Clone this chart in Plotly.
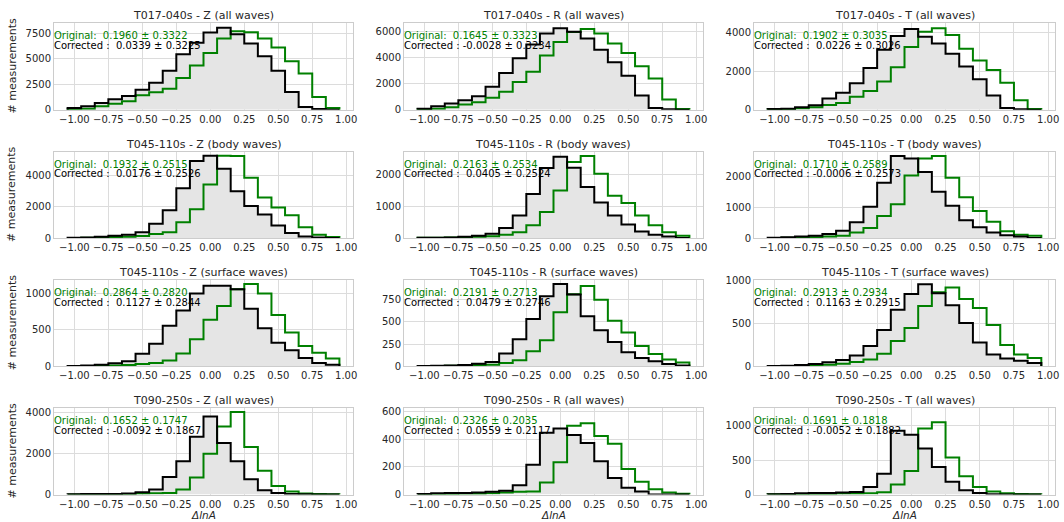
import plotly.graph_objects as go

# ---------------- data ----------------
bin_edges = [-1.05, -0.95, -0.85, -0.75, -0.65, -0.55, -0.45, -0.35, -0.25, -0.15, -0.05,
             0.05, 0.15, 0.25, 0.35, 0.45, 0.55, 0.65, 0.75, 0.85, 0.95]

periods = ["T017-040s", "T045-110s", "T045-110s", "T090-250s"]
wave_types = ["all waves", "body waves", "surface waves", "all waves"]
components = ["Z", "R", "T"]

# corrected (black, filled) histograms, panels in reading order
corr_p1 = [165, 330, 660, 1020, 1350, 1970, 2660, 3820, 5460, 6580, 7600, 8060, 7430, 6510, 5260, 3820, 1740, 260, 70, 0]
corr_p2 = [78, 260, 465, 725, 1035, 1760, 2790, 3930, 4965, 5820, 6205, 5950, 5430, 4580, 3620, 2590, 1090, 130, 25, 0]
corr_p3 = [35, 53, 123, 228, 580, 877, 1370, 2160, 3105, 3810, 4175, 3770, 3420, 2895, 2230, 1580, 737, 88, 18, 0]
corr_p4 = [20, 40, 85, 150, 215, 370, 910, 1770, 3180, 4910, 5250, 4430, 2990, 2050, 1510, 800, 325, 110, 40, 0]
corr_p5 = [10, 10, 20, 40, 75, 140, 320, 710, 1380, 2200, 2550, 2210, 1600, 1120, 710, 425, 210, 105, 50, 0]
corr_p6 = [10, 30, 55, 75, 130, 240, 515, 1020, 1790, 2660, 2580, 2140, 1505, 1045, 580, 350, 185, 90, 55, 0]
corr_p7 = [5, 14, 23, 42, 70, 172, 312, 558, 767, 1000, 1107, 1107, 1060, 790, 525, 325, 220, 116, 46, 23]
corr_p8 = [5, 8, 11, 15, 30, 49, 144, 303, 530, 784, 920, 803, 560, 405, 273, 159, 95, 57, 27, 11]
corr_p9 = [4, 8, 16, 28, 47, 75, 126, 237, 423, 660, 842, 957, 850, 711, 506, 277, 138, 91, 67, 40]
corr_p10 = [17, 33, 33, 33, 50, 116, 248, 860, 1620, 2810, 3800, 2510, 1620, 744, 215, 83, 33, 17, 0, 0]
corr_p11 = [5, 10, 12, 12, 15, 20, 27, 68, 215, 446, 478, 430, 373, 241, 120, 49, 22, 0, 0, 0]
corr_p12 = [5, 10, 20, 24, 24, 29, 39, 112, 302, 927, 868, 668, 400, 185, 63, 24, 5, 0, 0, 0]

# original (green) histograms
orig_p1 = [33, 100, 330, 590, 820, 1410, 1710, 2070, 3120, 4340, 5590, 7000, 7730, 7630, 7000, 6120, 4770, 3550, 1250, 160]
orig_p2 = [25, 78, 180, 390, 570, 905, 1370, 2120, 2900, 4140, 5170, 5920, 6150, 5820, 5040, 4320, 3310, 2380, 775, 50]
orig_p3 = [18, 35, 70, 123, 245, 350, 667, 965, 1456, 2190, 3245, 4035, 4210, 3860, 3155, 2545, 2050, 1400, 490, 35]
orig_p4 = [0, 20, 40, 65, 85, 130, 260, 370, 1015, 1840, 3415, 5250, 5230, 3850, 2595, 1945, 1450, 690, 215, 65]
orig_p5 = [10, 10, 20, 30, 40, 55, 105, 180, 400, 820, 1490, 2390, 2575, 2020, 1330, 1100, 710, 400, 180, 75]
orig_p6 = [0, 10, 20, 30, 55, 75, 185, 330, 715, 1100, 2030, 2580, 2660, 1955, 1320, 880, 530, 220, 110, 75]
orig_p7 = [0, 5, 10, 14, 19, 33, 47, 80, 177, 372, 642, 828, 1060, 1130, 1000, 707, 465, 279, 186, 107]
orig_p8 = [0, 4, 8, 11, 15, 19, 38, 68, 170, 292, 606, 807, 900, 746, 511, 379, 227, 140, 76, 45]
orig_p9 = [0, 4, 8, 12, 20, 32, 51, 79, 146, 296, 447, 703, 862, 917, 783, 680, 482, 249, 138, 99]
orig_p10 = [0, 0, 17, 33, 33, 50, 66, 83, 248, 826, 1983, 3306, 4017, 2314, 1157, 413, 149, 50, 33, 17]
orig_p11 = [0, 5, 5, 7, 7, 10, 15, 20, 22, 88, 234, 498, 515, 424, 368, 185, 93, 39, 15, 7]
orig_p12 = [5, 5, 5, 10, 10, 15, 15, 20, 34, 146, 341, 961, 1049, 537, 268, 112, 44, 20, 10, 5]

corrected = [corr_p1, corr_p2, corr_p3, corr_p4, corr_p5, corr_p6,
             corr_p7, corr_p8, corr_p9, corr_p10, corr_p11, corr_p12]
original = [orig_p1, orig_p2, orig_p3, orig_p4, orig_p5, orig_p6,
            orig_p7, orig_p8, orig_p9, orig_p10, orig_p11, orig_p12]

orig_mean = [0.1960, 0.1645, 0.1902, 0.1932, 0.2163, 0.1710, 0.2864, 0.2191, 0.2913, 0.1652, 0.2326, 0.1691]
orig_std = [0.3322, 0.3323, 0.3035, 0.2515, 0.2534, 0.2589, 0.2820, 0.2713, 0.2934, 0.1747, 0.2035, 0.1818]
corr_mean = [0.0339, -0.0028, 0.0226, 0.0176, 0.0405, -0.0006, 0.1127, 0.0479, 0.1163, -0.0092, 0.0559, -0.0052]
corr_std = [0.3225, 0.3234, 0.3026, 0.2526, 0.2524, 0.2573, 0.2844, 0.2746, 0.2915, 0.1867, 0.2117, 0.1882]

# axis settings
x_ticks = [-1.0, -0.75, -0.5, -0.25, 0.0, 0.25, 0.5, 0.75, 1.0]
y_top = [8500, 6590, 4470, 5510, 2710, 2800, 1186, 966, 1005, 4200, 624, 1254]
y_dtick = [2500, 2000, 2000, 2000, 1000, 1000, 500, 250, 500, 2000, 200, 500]

# ---------------- layout geometry (pixels) ----------------
W, H = 1064, 522
col_left = [54, 404, 754]
col_right = [353, 703, 1055]
row_top = [23.3, 151.7, 280.0, 408.2]
row_h = 86.4

TXT = "#262626"
GRID = "#dcdcdc"
SPINE = "#cccccc"
FONT = "DejaVu Sans"
NB = "\u00a0"

fig = go.Figure()
annotations = []
layout_axes = {}

xs = [bin_edges[0]] + bin_edges

for k in range(12):
    r, c = divmod(k, 3)
    sfx = "" if k == 0 else str(k + 1)
    xa, ya = "x" + sfx, "y" + sfx

    corr_y = [0] + corrected[k] + [0]
    orig_y = [0] + original[k] + [0]

    fig.add_trace(go.Scatter(x=xs, y=corr_y, mode="lines", line=dict(width=0, shape="hv"),
                             fill="tozeroy", fillcolor="#e5e5e5", xaxis=xa, yaxis=ya,
                             hoverinfo="skip", showlegend=False))
    fig.add_trace(go.Scatter(x=xs, y=orig_y, mode="lines", line=dict(color="#008000", width=2, shape="hv"),
                             xaxis=xa, yaxis=ya, showlegend=False))
    fig.add_trace(go.Scatter(x=xs, y=corr_y, mode="lines", line=dict(color="#000000", width=2, shape="hv"),
                             xaxis=xa, yaxis=ya, showlegend=False))

    x0, x1 = col_left[c] / W, col_right[c] / W
    top_px = row_top[r]
    bot_px = row_top[r] + row_h
    y0, y1 = 1 - bot_px / H, 1 - top_px / H

    layout_axes["xaxis" + sfx] = dict(
        domain=[x0, x1], anchor=ya, range=[-1.15, 1.05], automargin=False,
        tickvals=x_ticks, tickformat=".2f",
        showgrid=True, gridcolor=GRID, gridwidth=1, zeroline=False,
        showline=True, mirror=True, linecolor=SPINE, linewidth=1, ticks="",
        tickfont=dict(size=10, color=TXT, family=FONT))
    layout_axes["yaxis" + sfx] = dict(
        domain=[y0, y1], anchor=xa, range=[0, y_top[k]], automargin=False,
        tick0=0, dtick=y_dtick[k], tickformat="d",
        showgrid=True, gridcolor=GRID, gridwidth=1, zeroline=False,
        showline=True, mirror=True, linecolor=SPINE, linewidth=1, ticks="",
        tickfont=dict(size=10, color=TXT, family=FONT))

    # title
    annotations.append(dict(
        text=f"{periods[r]} - {components[c]} ({wave_types[r]})",
        x=(x0 + x1) / 2, y=1 - (top_px - 7.6) / H, xref="paper", yref="paper",
        xanchor="center", yanchor="middle", showarrow=False,
        font=dict(size=11, color=TXT, family=FONT)))

    # statistics text
    o_txt = f"Original:  {orig_mean[k]:.4f} ± {orig_std[k]:.4f}".replace(" ", NB)
    c_txt = f"Corrected : {corr_mean[k]: .4f} ± {corr_std[k]:.4f}".replace(" ", NB)
    annotations.append(dict(
        text=o_txt, x=x0, y=y0 + 0.855 * (y1 - y0), xref="paper", yref="paper",
        xanchor="left", yanchor="middle", showarrow=False, xshift=-2,
        font=dict(size=10, color="#008000", family=FONT)))
    annotations.append(dict(
        text=c_txt, x=x0, y=y0 + 0.745 * (y1 - y0), xref="paper", yref="paper",
        xanchor="left", yanchor="middle", showarrow=False, xshift=-2,
        font=dict(size=10, color="#000000", family=FONT)))

    if c == 0:
        annotations.append(dict(
            text="# measurements", x=12 / W, y=(y0 + y1) / 2, xref="paper", yref="paper",
            xanchor="center", yanchor="middle", textangle=-90, showarrow=False,
            font=dict(size=11, color=TXT, family=FONT)))
    if r == 3:
        annotations.append(dict(
            text="<i>ΔlnA</i>", x=(x0 + x1) / 2, y=0, xref="paper", yref="paper",
            xanchor="center", yanchor="bottom", showarrow=False, borderpad=0,
            font=dict(size=10.5, color=TXT, family=FONT)))

fig.update_layout(
    template="none",
    width=W, height=H,
    margin=dict(l=0, r=0, t=0, b=0, pad=0, autoexpand=False),
    paper_bgcolor="white", plot_bgcolor="white",
    font=dict(family=FONT, color=TXT),
    annotations=annotations,
    showlegend=False,
    **layout_axes)

fig.write_html("out.html", config={"displayModeBar": False},
               post_script="document.body.style.margin='0px';document.body.style.overflow='hidden';")
